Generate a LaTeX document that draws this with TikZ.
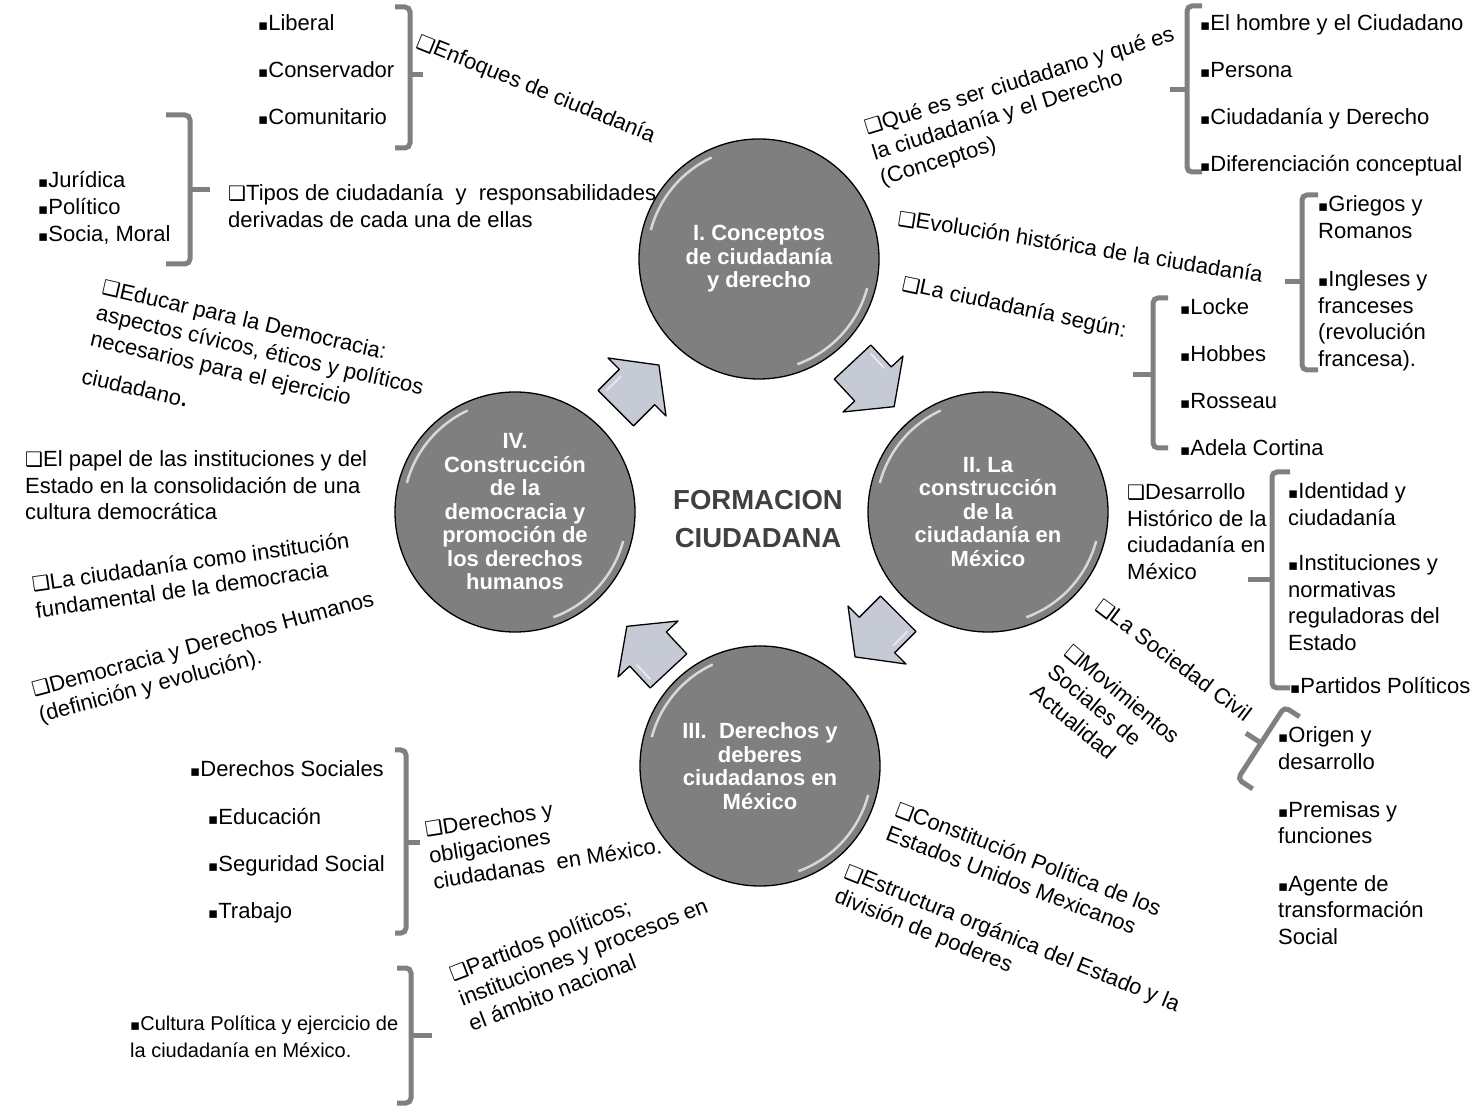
\documentclass[tikz,border=0pt]{standalone}
\usepackage{fontspec}
\setmainfont{Liberation Sans}
\newfontfamily\dvsans{DejaVu Sans}
\definecolor{circfill}{RGB}{127,127,127}
\definecolor{arrfill}{RGB}{198,202,212}
\definecolor{bracecol}{RGB}{128,128,128}
\definecolor{titlecol}{RGB}{64,64,64}
\newcommand\qbox{{\dvsans\fontsize{20}{20}\selectfont ❑}}
\newcommand\sqbul{{\dvsans\fontsize{15}{15}\selectfont ▪}}
\tikzset{
  fatarrow/.pic={
    \draw[blk] (-30,-25) -- (0,-25) -- (0,-41) -- (31,0) -- (0,41) -- (0,25) -- (-30,25) -- cycle;
    \draw[white, line width=1.5pt, opacity=.7] (-24,19) -- (-4,19);
  }
}
\begin{document}
\begin{tikzpicture}[x=1pt, y=1pt,
    every node/.style={inner sep=0pt},
    txt/.style={font=\fontsize{22}{26.5}\selectfont, align=left, anchor=base west},
    circ/.style={circle, draw=black, line width=1.3pt, fill=circfill, minimum size=240pt,
      text=white, align=center, font=\fontsize{22}{23.5}\selectfont\bfseries,
      path picture={
        \draw[white!70!circfill, line width=2.5pt] ([shift={(115:112)}]path picture bounding box.center) arc[start angle=115, end angle=165, radius=112];
        \draw[white!70!circfill, line width=2.5pt] ([shift={(-70:112)}]path picture bounding box.center) arc[start angle=-70, end angle=-15, radius=112];
      }},
    blk/.style={draw=black, line width=1.3pt, fill=arrfill, line join=round},
    brc/.style={draw=bracecol, line width=5pt, rounded corners=5pt}]
\useasboundingbox (0,0) rectangle (1474,1106);

% the four blocks
\node[circ] (cI) at (759,847) {I. Conceptos\\de ciudadanía\\y derecho};
\node[circ] (cII) at (988,594) {II. La\\construcción\\de la\\ciudadanía en\\México};
\node[circ] (cIII) at (760,340) {III.\ \ Derechos y\\deberes\\ciudadanos en\\México};
\node[circ] (cIV) at (515,594) {IV.\\Construcción\\de la\\democracia y\\promoción de\\los derechos\\humanos};
\node[font=\fontsize{27.5}{38}\selectfont\bfseries, text=titlecol, align=center] (title) at (758,587) {FORMACION\\CIUDADANA};

% arrows between blocks
\pic[rotate=-47] at (873,722) {fatarrow};
\pic[rotate=-135] at (877,471) {fatarrow};
\pic[rotate=133] at (648,457) {fatarrow};
\pic[rotate=45] at (637,719) {fatarrow};

% I. conceptos
\node[txt] (lib) at (258,1075) {\sqbul Liberal};
\node[txt] (cons) at (258,1028) {\sqbul Conservador};
\node[txt] (comu) at (258,981) {\sqbul Comunitario};
\draw[brc] (395,1099) -- (410,1099) -- (410,958) -- (395,958);
\draw[brc] (410,1031) -- (423,1031);
\node[txt, rotate=-22] (enf) at (415,1059) {\qbox Enfoques de ciudadanía};

\node[txt, font=\fontsize{22}{27}\selectfont] (tlist) at (38,864) {\sqbul Jurídica\\\sqbul Político\\\sqbul Socia, Moral};
\draw[brc] (166,991) -- (190,991) -- (190,842) -- (166,842);
\draw[brc] (190,916) -- (210,916);
\node[txt] (tipos) at (228,878.5) {\qbox Tipos de ciudadanía\ \ y\ \ responsabilidades\\derivadas de cada una de ellas};

\node[txt, rotate=17] (quees) at (882.5,920.3) {\qbox Qué es ser ciudadano y qué es\\la ciudadanía y el Derecho\\(Conceptos)};
\draw[brc] (1202,1100) -- (1187,1100) -- (1187,934) -- (1202,934);
\draw[brc] (1187,1016) -- (1170,1016);
\node[txt] (homb) at (1200,1075) {\sqbul El hombre y el Ciudadano};
\node[txt] (pers) at (1200,1028) {\sqbul Persona};
\node[txt] (cyd) at (1200,981) {\sqbul Ciudadanía y Derecho};
\node[txt] (dife) at (1200,934) {\sqbul Diferenciación conceptual};

\node[txt, rotate=-9] (evol) at (897,881) {\qbox Evolución histórica de la ciudadanía};
\draw[brc] (1318,911) -- (1302,911) -- (1302,736) -- (1318,736);
\draw[brc] (1302,824) -- (1285,824);
\node[txt] (grie) at (1318,867.5) {\sqbul Griegos y\\Romanos};
\node[txt] (ingl) at (1318,739.5) {\sqbul Ingleses y\\franceses\\(revolución\\francesa).};

\node[txt, rotate=-12] (segun) at (901,816) {\qbox La ciudadanía según:};
\draw[brc] (1168,808) -- (1153,808) -- (1153,658) -- (1168,658);
\draw[brc] (1153,731) -- (1133,731);
\node[txt] (lock) at (1180,791) {\sqbul Locke};
\node[txt] (hobb) at (1180,744) {\sqbul Hobbes};
\node[txt] (ross) at (1180,697) {\sqbul Rosseau};
\node[txt] (adel) at (1180,650) {\sqbul Adela Cortina};

% II. construccion
\node[txt] (desa) at (1127,526.5) {\qbox Desarrollo\\Histórico de la\\ciudadanía en\\México};
\draw[brc] (1290,634) -- (1272,634) -- (1272,418) -- (1290,418);
\draw[brc] (1272,526) -- (1248,526);
\node[txt] (iden) at (1288,580.5) {\sqbul Identidad y\\ciudadanía};
\node[txt] (inst) at (1288,455.5) {\sqbul Instituciones y\\normativas\\reguladoras del\\Estado};
\node[txt] (ppol) at (1290,412) {\sqbul Partidos Políticos};

\node[txt, rotate=-37] (socc) at (1094,497) {\qbox La Sociedad Civil};
\node[txt, rotate=-40] (movs) at (1028.9,411.4) {\qbox Movimientos\\Sociales de\\Actualidad};
\draw[brc, shift={(1261,363)}, rotate=-33] (18,43) -- (0,43) -- (0,-43) -- (18,-43);
\draw[brc, shift={(1261,363)}, rotate=-33] (0,0) -- (-18,0);
\node[txt] (orig) at (1278,336.5) {\sqbul Origen y\\desarrollo};
\node[txt] (prem) at (1278,262.5) {\sqbul Premisas y\\funciones};
\node[txt] (agen) at (1278,162) {\sqbul Agente de\\transformación\\Social};

% III. derechos y deberes
\node[txt, rotate=-21] (const) at (884.5,266.3) {\qbox Constitución Política de los\\Estados Unidos Mexicanos};
\node[txt, rotate=-22] (estr) at (833.1,204.4) {\qbox Estructura orgánica del Estado y la\\división de poderes};

\node[txt] (dsoc) at (190,329) {\sqbul Derechos Sociales};
\node[txt] (educ) at (208,282) {\sqbul Educación};
\node[txt] (segs) at (208,235) {\sqbul Seguridad Social};
\node[txt] (trab) at (208,188) {\sqbul Trabajo};
\draw[brc] (395,356) -- (406,356) -- (406,173) -- (395,173);
\draw[brc] (406,264) -- (420,264);
\node[txt, rotate=9] (dyo) at (434.3,216.7) {\qbox Derechos y\\obligaciones\\ciudadanas\ \ en México.};

\node[txt, font=\fontsize{20}{27}\selectfont] (cult) at (130,49) {\sqbul Cultura Política y ejercicio de\\la ciudadanía en México.};
\draw[brc] (397,138) -- (411,138) -- (411,3) -- (397,3);
\draw[brc] (411,71) -- (432,71);
\node[txt, rotate=21] (part) at (472,74.5) {\qbox Partidos políticos;\\instituciones y procesos en\\el ámbito nacional};

% IV. democracia
\node[txt, rotate=-13] (educar) at (80.4,722.9) {\qbox Educar para la Democracia:\\aspectos cívicos, éticos y políticos\\necesarios para el ejercicio\\[12pt]ciudadano{\fontsize{30}{30}\selectfont .}};
\node[txt] (papel) at (25,586) {\qbox El papel de las instituciones y del\\Estado en la consolidación de una\\cultura democrática};
\node[txt, rotate=8] (comoi) at (36.7,487.8) {\qbox La ciudadanía como institución\\fundamental de la democracia};
\node[txt, rotate=15] (demo) at (40.9,383.4) {\qbox Democracia y Derechos Humanos\\(definición y evolución).};
\end{tikzpicture}
\end{document}
